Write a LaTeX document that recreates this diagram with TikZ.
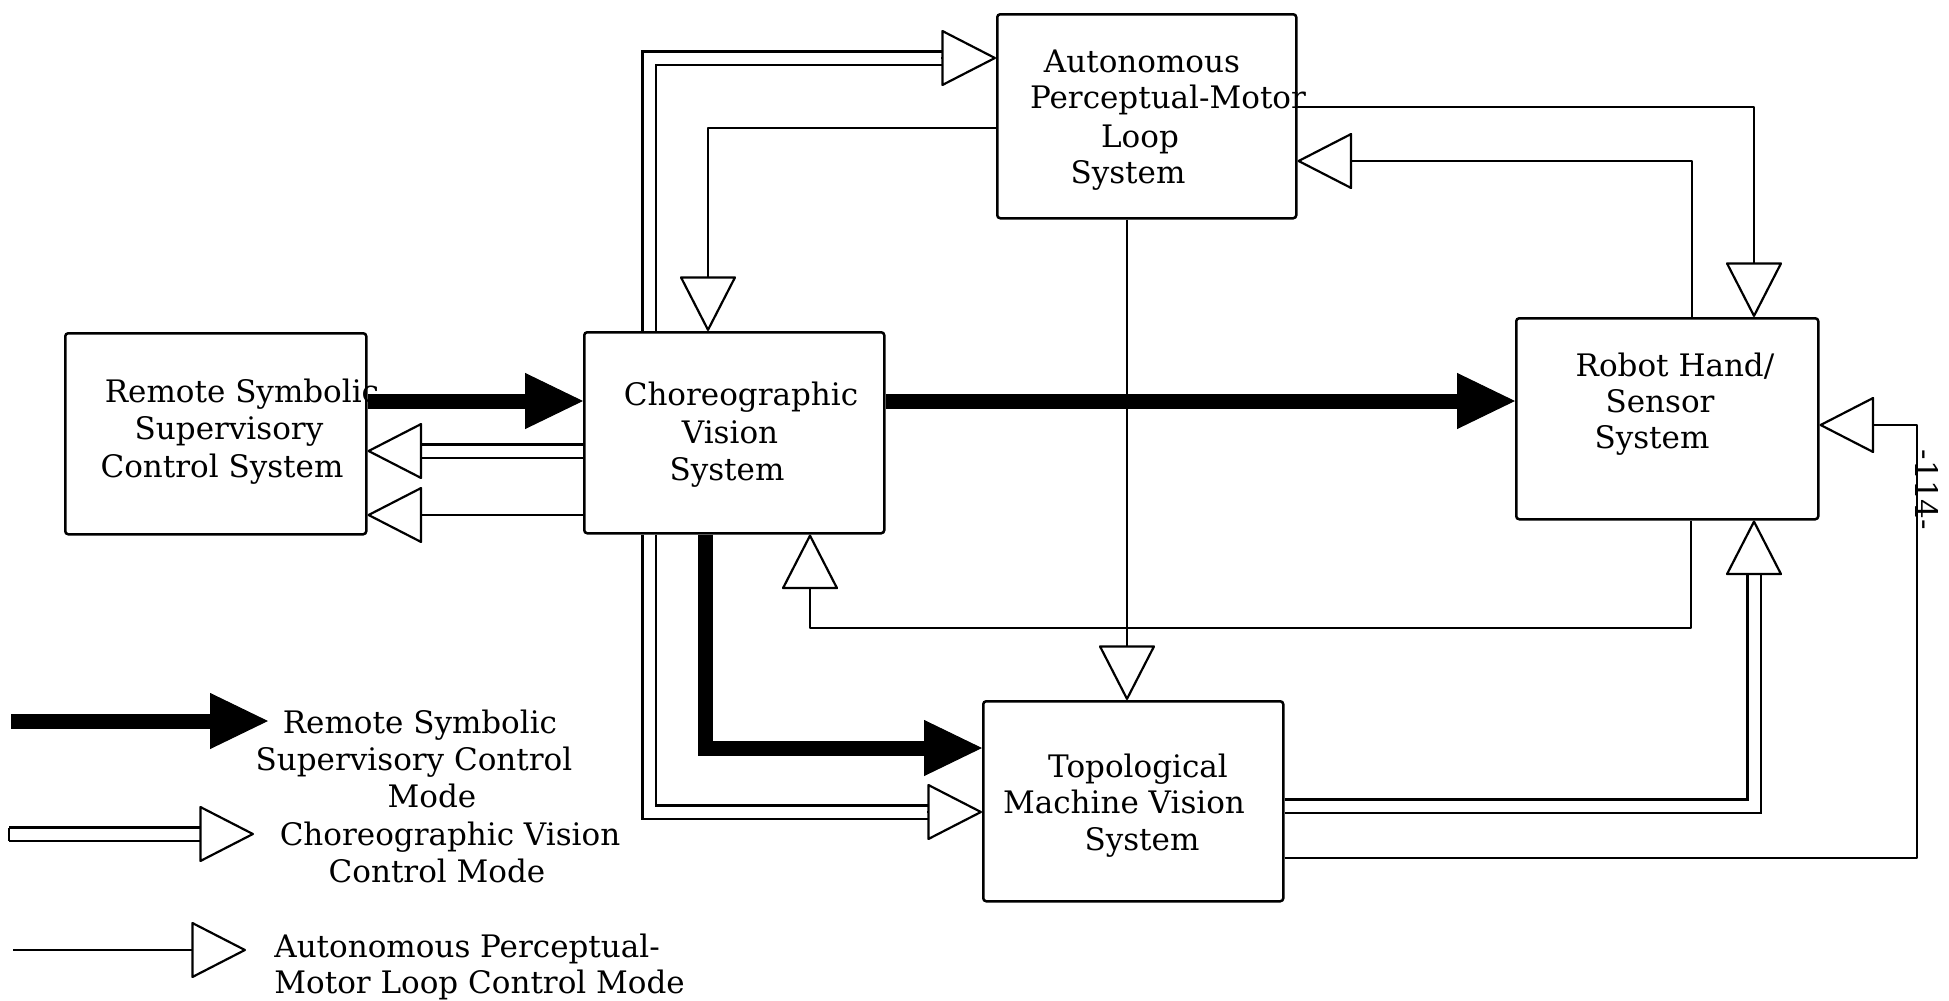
\documentclass[tikz,border=0pt]{standalone}
\usepackage{fontspec}
\setmainfont{DejaVu Serif}
\usetikzlibrary{arrows.meta}
\begin{document}
\begin{tikzpicture}[x=0.5pt,y=-0.5pt,
  box/.style={draw, line width=1.25pt, rounded corners=1.5pt, inner sep=0pt},
  lbl/.style={font=\fontsize{15.5}{18.5}\selectfont, inner sep=0pt, anchor=base},
  lbll/.style={lbl, anchor=base west},
  conn/.style={line width=1.1pt},
  bigarrow/.style={line width=7.5pt, -{Triangle[length=29pt,width=28pt,line width=0.5pt]}},
  opentip/.style={line width=1.1pt, line join=round, -{Triangle[fill=white,round,length=28pt,width=28.5pt]}},
  dbl/.style={double, line width=1.1pt, double distance=5.5pt},
]
\fill[white] (0,0) rectangle (1949,1001);
\useasboundingbox (0,0) rectangle (1949,1001);

% boxes
\node[box, anchor=north west, minimum width=150.5pt, minimum height=100.5pt] (rs) at (64,332) {};
\node[box, anchor=north west, minimum width=150pt, minimum height=100.5pt] (cv) at (583,331) {};
\node[box, anchor=north west, minimum width=149.5pt, minimum height=102pt] (ap) at (996,13) {};
\node[box, anchor=north west, minimum width=151pt, minimum height=100.5pt] (rh) at (1515,317) {};
\node[box, anchor=north west, minimum width=150pt, minimum height=100pt] (tm) at (982,700) {};

% box texts
\node[lbl] (rs1) at (242,402) {Remote Symbolic};
\node[lbl] (rs2) at (229,439) {Supervisory};
\node[lbl] (rs3) at (222,477) {Control System};
\node[lbl] (cv1) at (741,405) {Choreographic};
\node[lbl] (cv2) at (730,443) {Vision};
\node[lbl] (cv3) at (727,480) {System};
\node[lbl] (ap1) at (1142,72) {Autonomous};
\node[lbl] (ap2) at (1168,108) {Perceptual-Motor};
\node[lbl] (ap3) at (1140,147) {Loop};
\node[lbl] (ap4) at (1128,183) {System};
\node[lbl] (rh1) at (1675,376) {Robot Hand/};
\node[lbl] (rh2) at (1660,412) {Sensor};
\node[lbl] (rh3) at (1652,448) {System};
\node[lbl] (tm1) at (1138,777) {Topological};
\node[lbl] (tm2) at (1124,813) {Machine Vision};
\node[lbl] (tm3) at (1142,850) {System};

% page number
\node[lbl, anchor=center, rotate=-90] (pg) at (1927,490) {-114-};

% remote symbolic supervisory control mode (thick)
\draw[bigarrow] (rs.east |- 0,401) -- (cv.west |- 0,401);
\draw[bigarrow] (cv.east |- 0,401) -- (rh.west |- 0,401);
\draw[bigarrow, line join=miter] (705,0 |- cv.south) |- (tm.west |- 0,748);

% choreographic vision control mode (double)
\coordinate (d2) at (414,451);
\coordinate (c2) at (420,451);
\draw[dbl] (cv.west |- 0,451) -- (d2);
\draw[opentip] (c2) -- (rs.east |- 0,451);
\coordinate (d7) at (947,58);
\coordinate (c7) at (941,58);
\draw[dbl] (649,0 |- cv.north) |- (d7);
\draw[opentip] (c7) -- (ap.west |- 0,58);
\coordinate (d6) at (933,812);
\coordinate (c6) at (927,812);
\draw[dbl] (649,0 |- cv.south) |- (d6);
\draw[opentip] (c6) -- (tm.west |- 0,812);
\coordinate (d13) at (1754,567);
\coordinate (c13) at (1754,573);
\draw[dbl] (tm.east |- 0,806) -| (d13);
\draw[opentip] (c13) -- (1754,0 |- rh.south);

% autonomous perceptual-motor loop control mode (single)
\draw[opentip] (cv.west |- 0,515) -- (rs.east |- 0,515);
\draw[opentip] (ap.west |- 0,128) -| (708,0 |- cv.north);
\draw[opentip] (ap.east |- 0,107) -| (1754,0 |- rh.north);
\draw[opentip] (1692,0 |- rh.north) |- (ap.east |- 0,161);
\draw[opentip] (1127,0 |- ap.south) -- (1127,0 |- tm.north);
\coordinate (fb) at (810,628);
\draw[opentip] (1691,0 |- rh.south) |- (fb) -- (810,0 |- cv.south);
\coordinate (pr) at (1917,425);
\draw[opentip] (tm.east |- 0,858) -| (pr) -- (rh.east |- 0,425);

% legend
\coordinate (l1a) at (11,721);
\coordinate (l1b) at (268,721);
\draw[bigarrow] (l1a) -- (l1b);
\coordinate (l2a) at (9,834);
\coordinate (l2d) at (206,834);
\coordinate (l2b) at (200,834);
\coordinate (l2c) at (254,834);
\draw[dbl] (l2a) -- (l2d);
\draw[conn] (9,827.5) -- (9,840.5);
\draw[opentip] (l2b) -- (l2c);
\coordinate (l3a) at (13,950);
\coordinate (l3b) at (246,950);
\draw[opentip] (l3a) -- (l3b);

\node[lbl] (lg1) at (420,733) {Remote Symbolic};
\node[lbl] (lg2) at (414,770) {Supervisory Control};
\node[lbl] (lg3) at (432,807) {Mode};
\node[lbl] (lg4) at (450,845) {Choreographic Vision};
\node[lbl] (lg5) at (437,882) {Control Mode};
\node[lbll] (lg6) at (274,957) {Autonomous Perceptual-};
\node[lbll] (lg7) at (274,993) {Motor Loop Control Mode};
\end{tikzpicture}
\end{document}
